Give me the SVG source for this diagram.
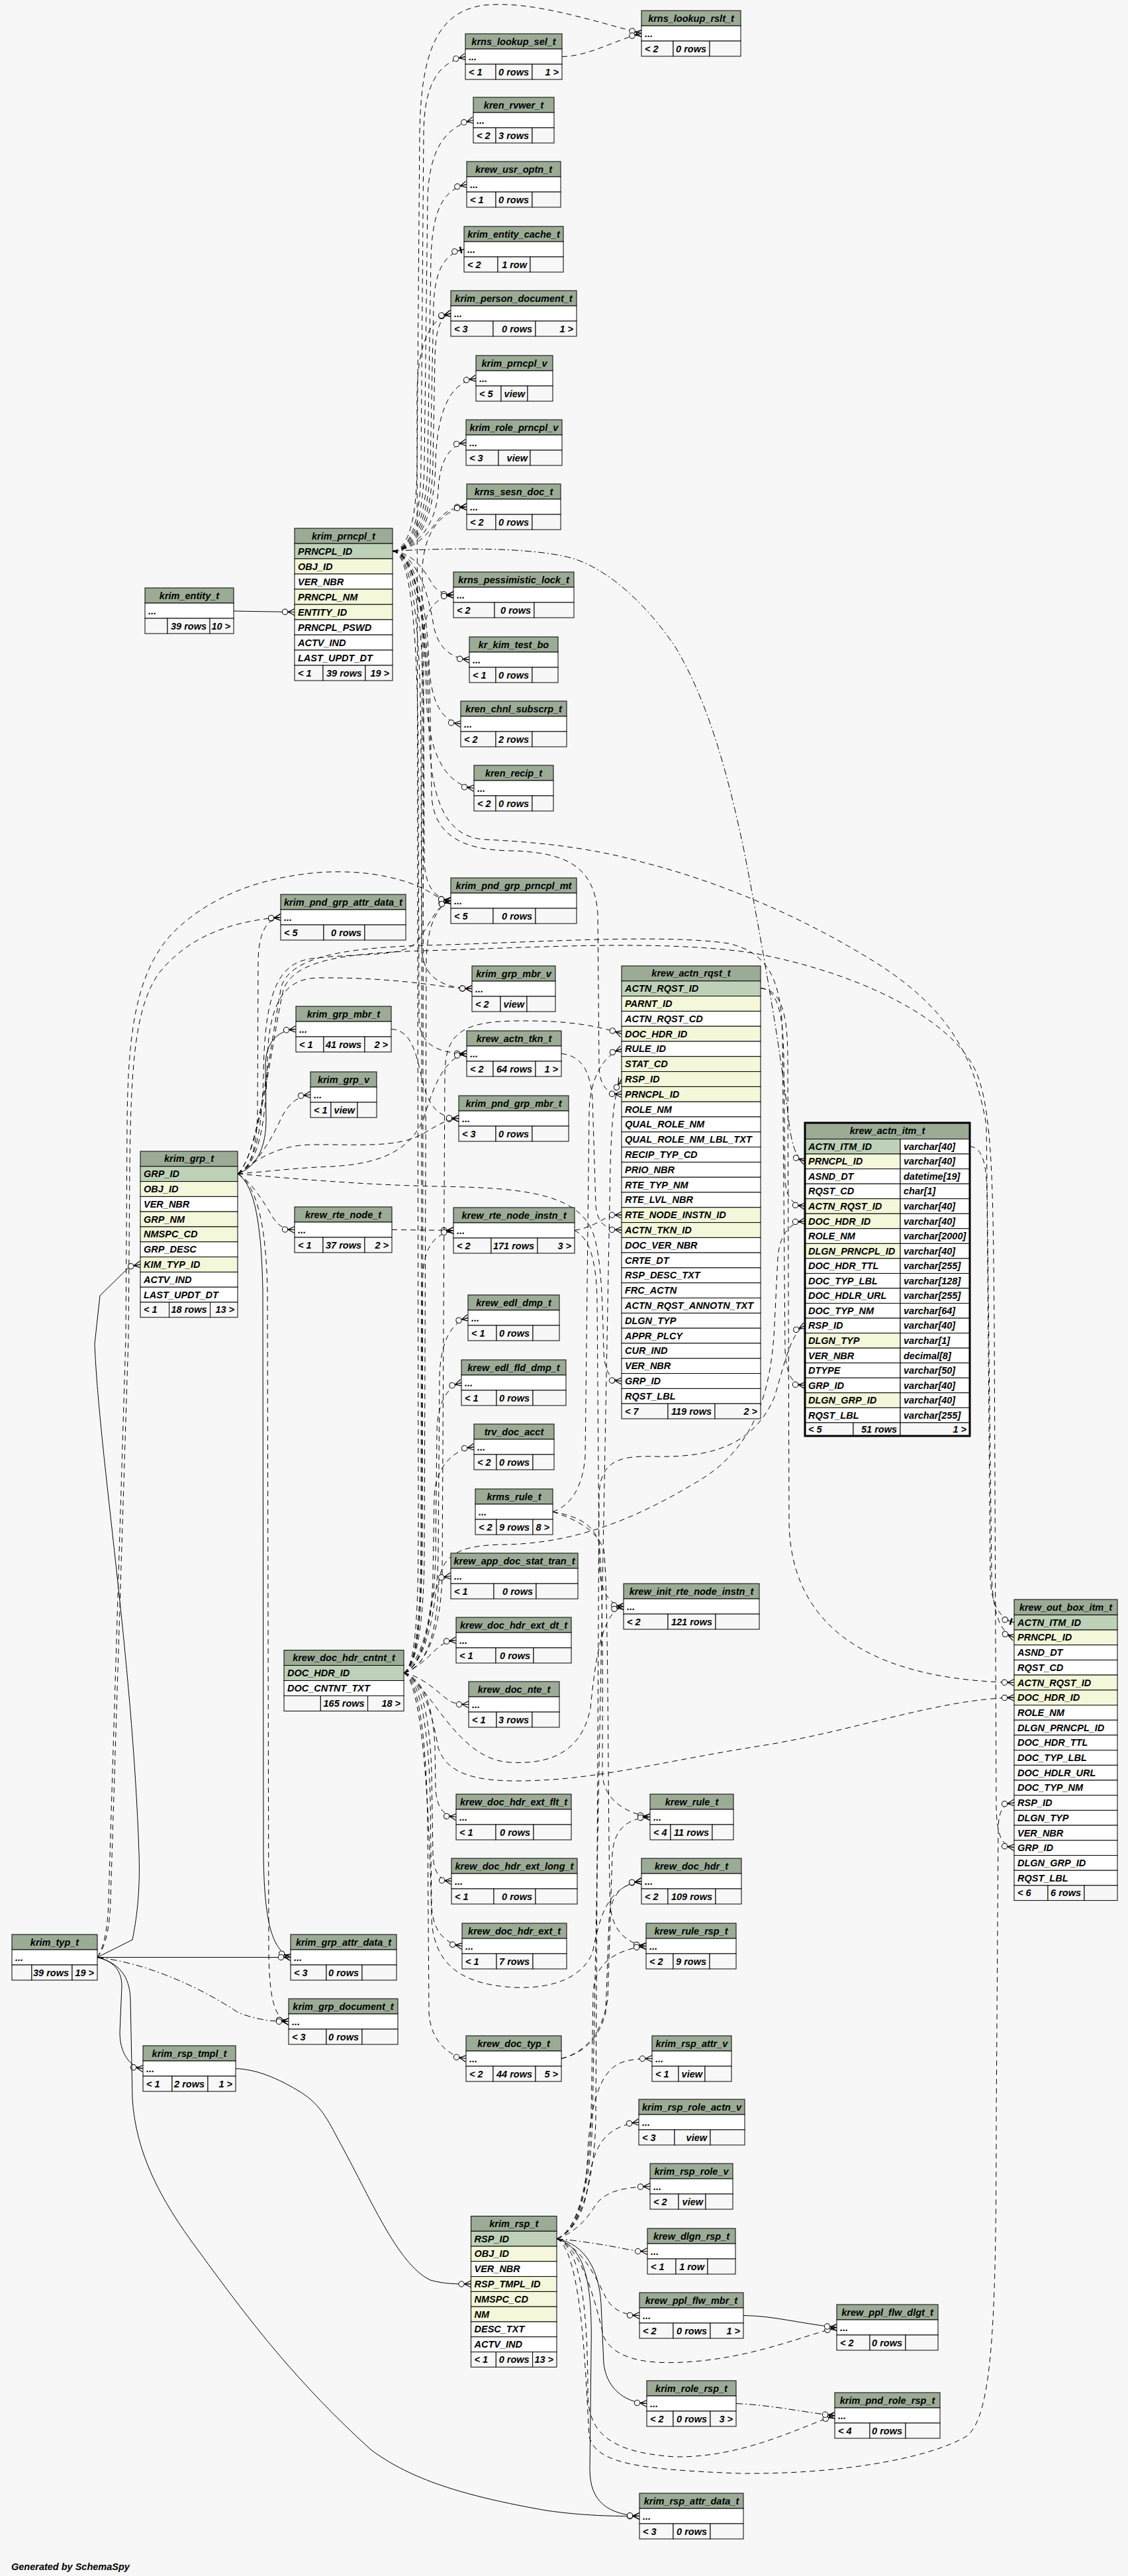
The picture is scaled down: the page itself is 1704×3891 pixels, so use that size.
<svg xmlns="http://www.w3.org/2000/svg" width="1704" height="3891" viewBox="0 0 1704 3891">
<style>
text{font-family:"Liberation Sans",Arial,Helvetica,sans-serif;font-weight:bold;font-style:italic;font-size:14.5px;fill:#000}
.n{text-anchor:middle}
.e{text-anchor:end}
.h,.k,.i,.w,.f{stroke:#000;stroke-width:1}
.h{fill:#9bab96}.k{fill:#bed1b8}.i{fill:#f4f7da}.w{fill:#fff}.f{fill:#f7f7f7}
.c{fill:none;stroke:#000;stroke-width:1;marker-end:url(#cf)}
.b{marker-end:url(#cb)}
.d{stroke-dasharray:8 6}
.dd{stroke-dasharray:10 4 2 4}
</style>
<defs>
<marker id="cf" markerUnits="userSpaceOnUse" viewBox="-20 -8 21 16" refX="0" refY="0" markerWidth="21" markerHeight="16" orient="auto" overflow="visible">
<path d="M-10,0L0,-5M-10,0L0,0M-10,0L0,5" fill="none" stroke="#000" stroke-width="1.2"/>
<circle cx="-14.5" cy="0" r="4.2" fill="#f7f7f7" stroke="#000" stroke-width="1"/>
</marker>
<marker id="cb" markerUnits="userSpaceOnUse" viewBox="-20 -8 21 16" refX="0" refY="0" markerWidth="21" markerHeight="16" orient="auto" overflow="visible">
<path d="M-10,0L0,0" fill="none" stroke="#000" stroke-width="1"/>
<path d="M-5,-5L-5,5" fill="none" stroke="#000" stroke-width="2.5"/>
<circle cx="-14.5" cy="0" r="4.2" fill="#f7f7f7" stroke="#000" stroke-width="1"/>
</marker>
</defs>
<rect x="0" y="0" width="1704" height="3891" fill="#f7f7f7"/>

<g id="connectors">
<path class="c" d="M353,923 L445,924.5"/>
<path class="c d" d="M593,832.5 C618,830 630,780 630,700 L634,200 C636,80 660,18 730,8 C800,0 890,30 969,50.5"/>
<path class="c d" d="M849,85.5 C890,85 930,60 969,50.5"/>
<path class="c d" d="M593,832.5 C619,830 636,790 636,700 L640,200 C641,130 660,95 703,85.5"/>
<path class="c d" d="M593,832.5 C620,830 640,790 641,700 L646,300 C648,230 670,192 715,181.5"/>
<path class="c d" d="M593,832.5 C622,830 644,790 646,700 L651,390 C653,320 668,287 705,278.5"/>
<path class="c d b" d="M593,832.5 C624,830 648,790 650,700 L655,460 C657,410 670,384 701,376.5"/>
<path class="c d" d="M593,832.5 C626,830 652,790 654,700 L657,540 C658,500 664,478 681,473.5"/>
<path class="c d" d="M593,832.5 C628,830 656,790 658,700 C660,620 680,578 719,571.5"/>
<path class="c d" d="M593,832.5 C630,830 660,790 662,740 C664,695 680,672 704,668.5"/>
<path class="c d" d="M593,832.5 C632,830 650,800 662,785 C675,770 688,766 705,765.5"/>
<path class="c d" d="M593,832.5 C630,836 645,870 655,885 C664,896 675,898 685,898.5"/>
<path class="c d" d="M593,832.5 C630,836 648,900 655,945 C662,980 682,994 709,996.5"/>
<path class="c d" d="M593,832.5 C630,836 645,920 648,1000 C650,1060 668,1090 696,1093.5"/>
<path class="c d" d="M593,832.5 C630,836 642,930 644,1050 C646,1140 675,1186 716,1190.5"/>
<path class="c d" d="M593,832.5 C630,836 640,960 640,1100 L641,1300 C642,1340 658,1357 681,1360.5"/>
<path class="c d" d="M593,832.5 C628,836 636,980 636,1150 L637,1430 C638,1475 665,1492 713,1493.5"/>
<path class="c d" d="M593,832.5 C626,836 632,1000 632,1200 L633,1540 C634,1578 662,1591 705,1591.5"/>
<path class="c d" d="M593,832.5 C632,836 648,960 650,1080 L652,1200 C654,1262 700,1284 770,1285 C850,1287 898,1305 903,1380 L905,1610 C906,1640 916,1652 939,1652.8"/>
<path class="c dd" d="M593,832.5 C700,826 820,828 870,845 C930,866 985,925 1020,977 C1070,1060 1100,1170 1125,1290 C1150,1420 1175,1560 1190,1680 C1195,1725 1200,1748 1216,1754.3"/>
<path class="c d" d="M593,832.5 C632,836 646,960 648,1100 C650,1200 668,1262 730,1268 C820,1272 900,1282 973,1303 C1080,1330 1200,1380 1300,1440 C1420,1510 1470,1580 1490,1700 L1498,2380 C1500,2440 1512,2466 1532,2473.4"/>

<path class="c d" d="M359,1773 C380,1765 388,1730 389,1680 L390,1450 C391,1410 402,1388 424,1385.5"/>
<path class="c" d="M359,1773 C390,1762 402,1730 402,1690 L401,1610 C401,1575 418,1557 447,1554.5"/>
<path class="c d" d="M359,1773 C386,1760 405,1730 422,1695 C432,1672 446,1656 469,1653.5"/>
<path class="c d" d="M359,1773 C380,1785 398,1815 410,1835 C418,1850 428,1857 445,1857.5"/>
<path class="c d" d="M359,1773 C388,1760 396,1700 398,1620 C400,1500 420,1455 470,1448 C550,1438 610,1448 632,1420 C650,1395 660,1366 681,1360.5"/>
<path class="c d" d="M359,1773 C390,1760 402,1700 404,1600 C406,1515 430,1478 480,1477 C560,1476 630,1484 670,1490 C690,1492 700,1493 713,1493.5"/>
<path class="c d" d="M359,1773 C420,1768 450,1764 500,1762 C580,1758 620,1735 640,1690 C660,1620 680,1596 705,1591.5"/>
<path class="c d" d="M359,1773 C390,1750 420,1730 470,1729 C540,1728 600,1735 640,1712 C660,1700 675,1690.5 693,1689.5"/>
<path class="c d" d="M359,1773 C460,1782 560,1790 660,1792 C780,1794 870,1800 895,1860 C910,1900 910,1980 912,2040 C913,2072 922,2085 939,2086"/>
<path class="c d" d="M359,1773 C390,1748 408,1580 425,1490 C440,1445 520,1432 640,1428 C800,1424 1000,1410 1100,1425 C1160,1438 1180,1480 1182,1560 L1186,2040 C1188,2080 1198,2091 1216,2092.6"/>
<path class="c d" d="M359,1773 C392,1745 410,1575 428,1495 C445,1450 520,1440 640,1436 C800,1432 1000,1418 1140,1440 C1300,1470 1440,1540 1475,1620 C1500,1680 1500,1800 1502,2000 L1505,2730 C1506,2770 1512,2788 1532,2790.5"/>
<path class="c" d="M359,1773 C385,1790 395,1850 397,1950 L398,2800 C399,2900 410,2945 439,2956.5"/>
<path class="c d" d="M359,1773 C388,1790 402,1850 404,1950 L406,2950 C407,3020 415,3050 436,3053.5"/>
<path class="c d" d="M591,1554.5 C625,1556 630,1600 640,1640 C650,1675 665,1688 693,1689.5"/>

<path class="c" d="M147,2956.5 L200,2930 C206,2900 212,2860 210,2800 C200,2500 150,2200 143,2030 L151,1957 L196,1913 L212,1910"/>
<path class="c" d="M147,2956.5 L439,2956.5"/>
<path class="c dd" d="M147,2956.5 C220,2965 300,3000 360,3040 C390,3052 415,3053.5 436,3053.5"/>
<path class="c d" d="M147,2956.5 C160,2940 166,2910 167,2870 L194,2020 L196,1760 C198,1600 205,1520 240,1470 C280,1420 340,1392 424,1385.5"/>
<path class="c d" d="M147,2956.5 C158,2940 163,2910 164,2870 L190,2020 L192,1700 C193,1560 205,1470 260,1410 C320,1350 400,1325 480,1318 C560,1312 620,1330 650,1348 C660,1355 670,1359 681,1360.5"/>
<path class="c" d="M147,2956.5 C170,2962 184,2975 184,3000 L181,3070 C181,3100 195,3122 216,3124.5"/>
<path class="c" d="M147,2956.5 C180,2965 196,2985 197,3020 L200,3170 C205,3250 240,3320 300,3400 C380,3510 450,3600 560,3700 C620,3745 700,3770 825,3792 C880,3800 930,3801 966,3800.5"/>
<path class="c" d="M356,3124.5 C390,3126 420,3140 449,3157 C480,3175 492,3195 510,3230 C560,3320 600,3420 650,3444 C670,3450 690,3450 711.5,3450"/>

<path class="c d" d="M592,1857.5 L685,1858.5"/>
<path class="c d" d="M868,1858.5 C890,1855 905,1845 915,1840 C922,1836 930,1835.2 939,1835.2"/>
<path class="c d" d="M868,1858.5 C890,1870 900,1900 902,1960 L905,2360 C906,2400 918,2424 942,2426.5"/>
<path class="c d" d="M848,1591.5 C880,1595 892,1620 895,1660 L900,1820 C902,1848 915,1857 939,1858"/>
<path class="c d" d="M835,2283.5 C860,2275 880,2250 884,2200 L890,1680 C891,1630 910,1595 939,1584.4"/>
<path class="c d" d="M835,2283.5 C870,2290 895,2300 905,2330 C912,2400 910,2600 910,2680 C912,2715 940,2738 982,2744.5"/>
<path class="c d" d="M835,2283.5 C870,2295 900,2310 912,2340 C920,2400 918,2800 922,2880 C926,2920 950,2936 976,2939.5"/>
<path class="c d" d="M1149,1492.6 C1175,1495 1183,1530 1184,1600 L1186,1780 C1187,1810 1198,1820 1216,1822"/>
<path class="c d" d="M1149,1492.6 C1180,1495 1190,1530 1190,1600 L1192,2300 C1195,2480 1350,2538 1532,2541.5"/>
<path class="c d b" d="M1465,1731.8 C1485,1733 1490,1760 1491,1800 L1496,2380 C1497,2425 1510,2444 1532,2450.7"/>

<path class="c d" d="M610,2527 C645,2518 666,2460 668,2380 L672,1620 C673,1560 700,1543 780,1542 C860,1541 905,1550 939,1561.6"/>
<path class="c d" d="M610,2527 C645,2520 660,2460 662,2400 C664,2350 690,2334 760,2333 C860,2332 950,2300 1050,2240 C1130,2195 1165,2120 1170,2000 L1175,1900 C1178,1862 1195,1846 1216,1844.5"/>
<path class="c d" d="M610,2527 C640,2535 655,2600 662,2640 C675,2680 720,2690 780,2690 C900,2690 1000,2660 1156,2636 C1300,2612 1420,2566 1532,2564.2"/>
<path class="c d" d="M610,2527 C630,2520 645,2505 655,2495 C665,2484 675,2479 689,2477.5"/>
<path class="c d" d="M610,2527 C640,2532 665,2560 680,2570 C690,2574 698,2574.5 708,2574.5"/>
<path class="c d" d="M610,2527 C640,2535 655,2580 657,2640 L658,2700 C659,2730 670,2743 689,2744.5"/>
<path class="c d" d="M610,2527 C638,2535 650,2600 652,2680 L654,2800 C655,2830 665,2840 682,2841.5"/>
<path class="c d" d="M610,2527 C636,2535 648,2620 650,2720 L652,2880 C654,2915 670,2935 698,2939.5"/>
<path class="c d" d="M610,2527 C634,2535 645,2640 646,2760 L648,3040 C650,3080 675,3105 704,3109.5"/>
<path class="c d" d="M610,2527 C640,2518 660,2440 662,2350 L664,2080 C665,2030 680,1998 707,1990.5"/>
<path class="c d" d="M610,2527 C638,2518 656,2440 658,2350 L660,2160 C661,2120 675,2095 697,2088.5"/>
<path class="c d" d="M610,2527 C636,2518 652,2460 654,2380 L656,2260 C658,2215 685,2190 716,2185.5"/>
<path class="c d" d="M610,2527 C630,2515 645,2470 650,2430 C655,2400 665,2383 681,2380.5"/>
<path class="c d" d="M610,2527 C630,2515 636,2450 637,2350 L638,1940 C639,1890 650,1866 685,1858.5"/>
<path class="c d" d="M610,2527 C650,2545 690,2658 770,2662 C840,2666 880,2640 892,2580 C900,2500 910,2435 942,2426.5"/>
<path class="c d" d="M610,2527 C636,2540 648,2700 652,2900 C656,2970 700,2998 778,3002 C840,3004 880,2985 895,2950 C905,2900 915,2850 969,2841.5"/>
<path class="c d" d="M610,2527 C632,2515 640,2440 641,2350 L644,1450 C645,1400 660,1368 681,1360.5"/>
<path class="c d" d="M610,2527 C628,2515 632,2440 632,2300 L630,600 C630,520 650,480 681,473.5"/>
<path class="c d" d="M610,2527 C630,2515 636,2440 636,2300 L638,860 C640,800 670,770 705,765.5"/>
<path class="c d" d="M610,2527 C631,2515 638,2440 638,2300 L640,960 C641,920 660,902 685,898.5"/>

<path class="c d" d="M848,3109.5 C880,3102 905,3080 915,3040 L920,2900 C922,2862 940,2845 969,2841.5"/>
<path class="c d" d="M848,3109.5 C885,3100 910,3070 918,3020 L925,2800 C928,2760 950,2747 982,2744.5"/>

<path class="c d" d="M841,3381.6 C870,3370 885,3330 888,3250 C892,3170 910,3125 940,3115 C955,3110 970,3109.5 985,3109.5"/>
<path class="c d" d="M841,3381.6 C868,3370 884,3340 890,3290 C898,3240 915,3212 965,3205.5"/>
<path class="c d" d="M841,3381.6 C870,3372 888,3350 900,3330 C915,3310 940,3304 982,3302.5"/>
<path class="c dd" d="M841,3381.6 C880,3385 920,3392 950,3398 C962,3400 970,3400.5 978,3400.5"/>
<path class="c d" d="M841,3381.6 C880,3395 900,3440 915,3470 C925,3490 945,3497 966,3497.5"/>
<path class="c" d="M841,3381.6 C885,3390 905,3430 908,3480 L912,3570 C916,3605 940,3628 977,3630.5"/>
<path class="c" d="M841,3381.6 C885,3395 895,3450 893,3550 L891,3730 C891,3780 920,3798 966,3800.5"/>
<path class="c d" d="M841,3381.6 C880,3395 888,3500 888,3620 C890,3680 930,3705 1020,3711 C1120,3712 1200,3670 1261,3648.5"/>
<path class="c d" d="M841,3381.6 C880,3395 900,3480 912,3530 C930,3565 980,3575 1068,3565 C1150,3555 1210,3530 1264,3515.5"/>
<path class="c d" d="M841,3381.6 C880,3400 885,3600 890,3680 C900,3720 960,3730 1116,3736 C1260,3738 1400,3715 1460,3680 C1500,3650 1505,3500 1505,3200 L1508,2760 C1509,2735 1515,2725 1532,2723"/>
<path class="c d" d="M841,3381.6 C875,3370 898,3300 900,3200 L905,2260 C906,2210 930,2198 990,2200 C1080,2202 1140,2180 1170,2110 C1185,2060 1195,2012 1216,2002.4"/>
<path class="c d" d="M841,3381.6 C872,3370 893,3300 895,3200 L922,1760 C924,1690 928,1648 939,1630"/>
<path class="c d" d="M841,3381.6 C872,3370 890,3300 893,3200 L896,3010 C898,2965 930,2945 976,2939.5"/>
<path class="c" d="M1123,3497.5 C1170,3498 1210,3510 1264,3515.5"/>
<path class="c dd" d="M1112,3630.5 C1170,3633 1220,3645 1261,3648.5"/>
</g>

<g id="krns_lookup_rslt_t"><rect class="h" x="969" y="16" width="150" height="23"/><rect class="w" x="969" y="39" width="150" height="23"/><rect class="f" x="969" y="62" width="48" height="23"/><rect class="f" x="1017" y="62" width="55" height="23"/><rect class="f" x="1072" y="62" width="47" height="23"/><text class="n" x="1044" y="32.5">krns_lookup_rslt_t</text><text x="974" y="55.5">...</text><text x="974" y="78.5">&lt; 2</text><text class="e" x="1067" y="78.5">0 rows</text></g>
<g id="krns_lookup_sel_t"><rect class="h" x="703" y="51" width="146" height="23"/><rect class="w" x="703" y="74" width="146" height="23"/><rect class="f" x="703" y="97" width="46" height="23"/><rect class="f" x="749" y="97" width="55" height="23"/><rect class="f" x="804" y="97" width="45" height="23"/><text class="n" x="776" y="67.5">krns_lookup_sel_t</text><text x="708" y="90.5">...</text><text x="708" y="113.5">&lt; 1</text><text class="e" x="799" y="113.5">0 rows</text><text class="e" x="844" y="113.5">1 &gt;</text></g>
<g id="kren_rvwer_t"><rect class="h" x="715" y="147" width="122" height="23"/><rect class="w" x="715" y="170" width="122" height="23"/><rect class="f" x="715" y="193" width="34" height="23"/><rect class="f" x="749" y="193" width="55" height="23"/><rect class="f" x="804" y="193" width="33" height="23"/><text class="n" x="776" y="163.5">kren_rvwer_t</text><text x="720" y="186.5">...</text><text x="720" y="209.5">&lt; 2</text><text class="e" x="799" y="209.5">3 rows</text></g>
<g id="krew_usr_optn_t"><rect class="h" x="705" y="244" width="142" height="23"/><rect class="w" x="705" y="267" width="142" height="23"/><rect class="f" x="705" y="290" width="44" height="23"/><rect class="f" x="749" y="290" width="55" height="23"/><rect class="f" x="804" y="290" width="43" height="23"/><text class="n" x="776" y="260.5">krew_usr_optn_t</text><text x="710" y="283.5">...</text><text x="710" y="306.5">&lt; 1</text><text class="e" x="799" y="306.5">0 rows</text></g>
<g id="krim_entity_cache_t"><rect class="h" x="701" y="342" width="150" height="23"/><rect class="w" x="701" y="365" width="150" height="23"/><rect class="f" x="701" y="388" width="51" height="23"/><rect class="f" x="752" y="388" width="49" height="23"/><rect class="f" x="801" y="388" width="50" height="23"/><text class="n" x="776" y="358.5">krim_entity_cache_t</text><text x="706" y="381.5">...</text><text x="706" y="404.5">&lt; 2</text><text class="e" x="796" y="404.5">1 row</text></g>
<g id="krim_person_document_t"><rect class="h" x="681" y="439" width="190" height="23"/><rect class="w" x="681" y="462" width="190" height="23"/><rect class="f" x="681" y="485" width="64" height="23"/><rect class="f" x="745" y="485" width="64" height="23"/><rect class="f" x="809" y="485" width="62" height="23"/><text class="n" x="776" y="455.5">krim_person_document_t</text><text x="686" y="478.5">...</text><text x="686" y="501.5">&lt; 3</text><text class="e" x="804" y="501.5">0 rows</text><text class="e" x="866" y="501.5">1 &gt;</text></g>
<g id="krim_prncpl_v"><rect class="h" x="719" y="537" width="116" height="23"/><rect class="w" x="719" y="560" width="116" height="23"/><rect class="f" x="719" y="583" width="38" height="23"/><rect class="f" x="757" y="583" width="40" height="23"/><rect class="f" x="797" y="583" width="38" height="23"/><text class="n" x="777" y="553.5">krim_prncpl_v</text><text x="724" y="576.5">...</text><text x="724" y="599.5">&lt; 5</text><text class="e" x="793" y="599.5">view</text></g>
<g id="krim_role_prncpl_v"><rect class="h" x="704" y="634" width="145" height="23"/><rect class="w" x="704" y="657" width="145" height="23"/><rect class="f" x="704" y="680" width="49" height="23"/><rect class="f" x="753" y="680" width="48" height="23"/><rect class="f" x="801" y="680" width="48" height="23"/><text class="n" x="776.5" y="650.5">krim_role_prncpl_v</text><text x="709" y="673.5">...</text><text x="709" y="696.5">&lt; 3</text><text class="e" x="797" y="696.5">view</text></g>
<g id="krns_sesn_doc_t"><rect class="h" x="705" y="731" width="142" height="23"/><rect class="w" x="705" y="754" width="142" height="23"/><rect class="f" x="705" y="777" width="44" height="23"/><rect class="f" x="749" y="777" width="55" height="23"/><rect class="f" x="804" y="777" width="43" height="23"/><text class="n" x="776" y="747.5">krns_sesn_doc_t</text><text x="710" y="770.5">...</text><text x="710" y="793.5">&lt; 2</text><text class="e" x="799" y="793.5">0 rows</text></g>
<g id="krns_pessimistic_lock_t"><rect class="h" x="685" y="864" width="182" height="23"/><rect class="w" x="685" y="887" width="182" height="23"/><rect class="f" x="685" y="910" width="62" height="23"/><rect class="f" x="747" y="910" width="60" height="23"/><rect class="f" x="807" y="910" width="60" height="23"/><text class="n" x="776" y="880.5">krns_pessimistic_lock_t</text><text x="690" y="903.5">...</text><text x="690" y="926.5">&lt; 2</text><text class="e" x="802" y="926.5">0 rows</text></g>
<g id="kr_kim_test_bo"><rect class="h" x="709" y="962" width="134" height="23"/><rect class="w" x="709" y="985" width="134" height="23"/><rect class="f" x="709" y="1008" width="40" height="23"/><rect class="f" x="749" y="1008" width="55" height="23"/><rect class="f" x="804" y="1008" width="39" height="23"/><text class="n" x="776" y="978.5">kr_kim_test_bo</text><text x="714" y="1001.5">...</text><text x="714" y="1024.5">&lt; 1</text><text class="e" x="799" y="1024.5">0 rows</text></g>
<g id="kren_chnl_subscrp_t"><rect class="h" x="696" y="1059" width="160" height="23"/><rect class="w" x="696" y="1082" width="160" height="23"/><rect class="f" x="696" y="1105" width="53" height="23"/><rect class="f" x="749" y="1105" width="55" height="23"/><rect class="f" x="804" y="1105" width="52" height="23"/><text class="n" x="776" y="1075.5">kren_chnl_subscrp_t</text><text x="701" y="1098.5">...</text><text x="701" y="1121.5">&lt; 2</text><text class="e" x="799" y="1121.5">2 rows</text></g>
<g id="kren_recip_t"><rect class="h" x="716" y="1156" width="120" height="23"/><rect class="w" x="716" y="1179" width="120" height="23"/><rect class="f" x="716" y="1202" width="33" height="23"/><rect class="f" x="749" y="1202" width="55" height="23"/><rect class="f" x="804" y="1202" width="32" height="23"/><text class="n" x="776" y="1172.5">kren_recip_t</text><text x="721" y="1195.5">...</text><text x="721" y="1218.5">&lt; 2</text><text class="e" x="799" y="1218.5">0 rows</text></g>
<g id="krim_pnd_grp_prncpl_mt"><rect class="h" x="681" y="1326" width="190" height="23"/><rect class="w" x="681" y="1349" width="190" height="23"/><rect class="f" x="681" y="1372" width="64" height="23"/><rect class="f" x="745" y="1372" width="64" height="23"/><rect class="f" x="809" y="1372" width="62" height="23"/><text class="n" x="776" y="1342.5">krim_pnd_grp_prncpl_mt</text><text x="686" y="1365.5">...</text><text x="686" y="1388.5">&lt; 5</text><text class="e" x="804" y="1388.5">0 rows</text></g>
<g id="krim_grp_mbr_v"><rect class="h" x="713" y="1459" width="126" height="23"/><rect class="w" x="713" y="1482" width="126" height="23"/><rect class="f" x="713" y="1505" width="43" height="23"/><rect class="f" x="756" y="1505" width="40" height="23"/><rect class="f" x="796" y="1505" width="43" height="23"/><text class="n" x="776" y="1475.5">krim_grp_mbr_v</text><text x="718" y="1498.5">...</text><text x="718" y="1521.5">&lt; 2</text><text class="e" x="792" y="1521.5">view</text></g>
<g id="krew_actn_tkn_t"><rect class="h" x="705" y="1557" width="143" height="23"/><rect class="w" x="705" y="1580" width="143" height="23"/><rect class="f" x="705" y="1603" width="40" height="23"/><rect class="f" x="745" y="1603" width="64" height="23"/><rect class="f" x="809" y="1603" width="39" height="23"/><text class="n" x="776.5" y="1573.5">krew_actn_tkn_t</text><text x="710" y="1596.5">...</text><text x="710" y="1619.5">&lt; 2</text><text class="e" x="804" y="1619.5">64 rows</text><text class="e" x="843" y="1619.5">1 &gt;</text></g>
<g id="krim_pnd_grp_mbr_t"><rect class="h" x="693" y="1655" width="166" height="23"/><rect class="w" x="693" y="1678" width="166" height="23"/><rect class="f" x="693" y="1701" width="56" height="23"/><rect class="f" x="749" y="1701" width="55" height="23"/><rect class="f" x="804" y="1701" width="55" height="23"/><text class="n" x="776" y="1671.5">krim_pnd_grp_mbr_t</text><text x="698" y="1694.5">...</text><text x="698" y="1717.5">&lt; 3</text><text class="e" x="799" y="1717.5">0 rows</text></g>
<g id="krim_pnd_grp_attr_data_t"><rect class="h" x="424" y="1351" width="189" height="23"/><rect class="w" x="424" y="1374" width="189" height="23"/><rect class="f" x="424" y="1397" width="65" height="23"/><rect class="f" x="489" y="1397" width="62" height="23"/><rect class="f" x="551" y="1397" width="62" height="23"/><text class="n" x="518.5" y="1367.5">krim_pnd_grp_attr_data_t</text><text x="429" y="1390.5">...</text><text x="429" y="1413.5">&lt; 5</text><text class="e" x="546" y="1413.5">0 rows</text></g>
<g id="krim_grp_mbr_t"><rect class="h" x="447" y="1520" width="144" height="23"/><rect class="w" x="447" y="1543" width="144" height="23"/><rect class="f" x="447" y="1566" width="42" height="23"/><rect class="f" x="489" y="1566" width="62" height="23"/><rect class="f" x="551" y="1566" width="40" height="23"/><text class="n" x="519" y="1536.5">krim_grp_mbr_t</text><text x="452" y="1559.5">...</text><text x="452" y="1582.5">&lt; 1</text><text class="e" x="546" y="1582.5">41 rows</text><text class="e" x="586" y="1582.5">2 &gt;</text></g>
<g id="krim_grp_v"><rect class="h" x="469" y="1619" width="100" height="23"/><rect class="w" x="469" y="1642" width="100" height="23"/><rect class="f" x="469" y="1665" width="31" height="23"/><rect class="f" x="500" y="1665" width="40" height="23"/><rect class="f" x="540" y="1665" width="29" height="23"/><text class="n" x="519" y="1635.5">krim_grp_v</text><text x="474" y="1658.5">...</text><text x="474" y="1681.5">&lt; 1</text><text class="e" x="536" y="1681.5">view</text></g>
<g id="krew_rte_node_t"><rect class="h" x="445" y="1823" width="147" height="23"/><rect class="w" x="445" y="1846" width="147" height="23"/><rect class="f" x="445" y="1869" width="43" height="23"/><rect class="f" x="488" y="1869" width="63" height="23"/><rect class="f" x="551" y="1869" width="41" height="23"/><text class="n" x="518.5" y="1839.5">krew_rte_node_t</text><text x="450" y="1862.5">...</text><text x="450" y="1885.5">&lt; 1</text><text class="e" x="546" y="1885.5">37 rows</text><text class="e" x="587" y="1885.5">2 &gt;</text></g>
<g id="krew_rte_node_instn_t"><rect class="h" x="685" y="1824" width="183" height="23"/><rect class="w" x="685" y="1847" width="183" height="23"/><rect class="f" x="685" y="1870" width="57" height="23"/><rect class="f" x="742" y="1870" width="70" height="23"/><rect class="f" x="812" y="1870" width="56" height="23"/><text class="n" x="776.5" y="1840.5">krew_rte_node_instn_t</text><text x="690" y="1863.5">...</text><text x="690" y="1886.5">&lt; 2</text><text class="e" x="807" y="1886.5">171 rows</text><text class="e" x="863" y="1886.5">3 &gt;</text></g>
<g id="krew_edl_dmp_t"><rect class="h" x="707" y="1956" width="138" height="23"/><rect class="w" x="707" y="1979" width="138" height="23"/><rect class="f" x="707" y="2002" width="43" height="23"/><rect class="f" x="750" y="2002" width="55" height="23"/><rect class="f" x="805" y="2002" width="40" height="23"/><text class="n" x="776" y="1972.5">krew_edl_dmp_t</text><text x="712" y="1995.5">...</text><text x="712" y="2018.5">&lt; 1</text><text class="e" x="800" y="2018.5">0 rows</text></g>
<g id="krew_edl_fld_dmp_t"><rect class="h" x="697" y="2054" width="158" height="23"/><rect class="w" x="697" y="2077" width="158" height="23"/><rect class="f" x="697" y="2100" width="53" height="23"/><rect class="f" x="750" y="2100" width="55" height="23"/><rect class="f" x="805" y="2100" width="50" height="23"/><text class="n" x="776" y="2070.5">krew_edl_fld_dmp_t</text><text x="702" y="2093.5">...</text><text x="702" y="2116.5">&lt; 1</text><text class="e" x="800" y="2116.5">0 rows</text></g>
<g id="trv_doc_acct"><rect class="h" x="716" y="2151" width="121" height="23"/><rect class="w" x="716" y="2174" width="121" height="23"/><rect class="f" x="716" y="2197" width="34" height="23"/><rect class="f" x="750" y="2197" width="55" height="23"/><rect class="f" x="805" y="2197" width="32" height="23"/><text class="n" x="776.5" y="2167.5">trv_doc_acct</text><text x="721" y="2190.5">...</text><text x="721" y="2213.5">&lt; 2</text><text class="e" x="800" y="2213.5">0 rows</text></g>
<g id="krms_rule_t"><rect class="h" x="718" y="2249" width="117" height="23"/><rect class="w" x="718" y="2272" width="117" height="23"/><rect class="f" x="718" y="2295" width="32" height="23"/><rect class="f" x="750" y="2295" width="55" height="23"/><rect class="f" x="805" y="2295" width="30" height="23"/><text class="n" x="776.5" y="2265.5">krms_rule_t</text><text x="723" y="2288.5">...</text><text x="723" y="2311.5">&lt; 2</text><text class="e" x="800" y="2311.5">9 rows</text><text class="e" x="830" y="2311.5">8 &gt;</text></g>
<g id="krew_app_doc_stat_tran_t"><rect class="h" x="681" y="2346" width="192" height="23"/><rect class="w" x="681" y="2369" width="192" height="23"/><rect class="f" x="681" y="2392" width="65" height="23"/><rect class="f" x="746" y="2392" width="64" height="23"/><rect class="f" x="810" y="2392" width="63" height="23"/><text class="n" x="777" y="2362.5">krew_app_doc_stat_tran_t</text><text x="686" y="2385.5">...</text><text x="686" y="2408.5">&lt; 1</text><text class="e" x="805" y="2408.5">0 rows</text></g>
<g id="krew_init_rte_node_instn_t"><rect class="h" x="942" y="2392" width="205" height="23"/><rect class="w" x="942" y="2415" width="205" height="23"/><rect class="f" x="942" y="2438" width="67" height="23"/><rect class="f" x="1009" y="2438" width="72" height="23"/><rect class="f" x="1081" y="2438" width="66" height="23"/><text class="n" x="1044.5" y="2408.5">krew_init_rte_node_instn_t</text><text x="947" y="2431.5">...</text><text x="947" y="2454.5">&lt; 2</text><text class="e" x="1076" y="2454.5">121 rows</text></g>
<g id="krew_doc_hdr_ext_dt_t"><rect class="h" x="689" y="2443" width="174" height="23"/><rect class="w" x="689" y="2466" width="174" height="23"/><rect class="f" x="689" y="2489" width="60" height="23"/><rect class="f" x="749" y="2489" width="57" height="23"/><rect class="f" x="806" y="2489" width="57" height="23"/><text class="n" x="776" y="2459.5">krew_doc_hdr_ext_dt_t</text><text x="694" y="2482.5">...</text><text x="694" y="2505.5">&lt; 1</text><text class="e" x="801" y="2505.5">0 rows</text></g>
<g id="krew_doc_nte_t"><rect class="h" x="708" y="2540" width="137" height="23"/><rect class="w" x="708" y="2563" width="137" height="23"/><rect class="f" x="708" y="2586" width="42" height="23"/><rect class="f" x="750" y="2586" width="54" height="23"/><rect class="f" x="804" y="2586" width="41" height="23"/><text class="n" x="776.5" y="2556.5">krew_doc_nte_t</text><text x="713" y="2579.5">...</text><text x="713" y="2602.5">&lt; 1</text><text class="e" x="799" y="2602.5">3 rows</text></g>
<g id="krew_doc_hdr_ext_flt_t"><rect class="h" x="689" y="2710" width="174" height="23"/><rect class="w" x="689" y="2733" width="174" height="23"/><rect class="f" x="689" y="2756" width="60" height="23"/><rect class="f" x="749" y="2756" width="57" height="23"/><rect class="f" x="806" y="2756" width="57" height="23"/><text class="n" x="776" y="2726.5">krew_doc_hdr_ext_flt_t</text><text x="694" y="2749.5">...</text><text x="694" y="2772.5">&lt; 1</text><text class="e" x="801" y="2772.5">0 rows</text></g>
<g id="krew_rule_t"><rect class="h" x="982" y="2710" width="126" height="23"/><rect class="w" x="982" y="2733" width="126" height="23"/><rect class="f" x="982" y="2756" width="31" height="23"/><rect class="f" x="1013" y="2756" width="63" height="23"/><rect class="f" x="1076" y="2756" width="32" height="23"/><text class="n" x="1045" y="2726.5">krew_rule_t</text><text x="987" y="2749.5">...</text><text x="987" y="2772.5">&lt; 4</text><text class="e" x="1071" y="2772.5">11 rows</text></g>
<g id="krew_doc_hdr_ext_long_t"><rect class="h" x="682" y="2807" width="190" height="23"/><rect class="w" x="682" y="2830" width="190" height="23"/><rect class="f" x="682" y="2853" width="64" height="23"/><rect class="f" x="746" y="2853" width="63" height="23"/><rect class="f" x="809" y="2853" width="63" height="23"/><text class="n" x="777" y="2823.5">krew_doc_hdr_ext_long_t</text><text x="687" y="2846.5">...</text><text x="687" y="2869.5">&lt; 1</text><text class="e" x="804" y="2869.5">0 rows</text></g>
<g id="krew_doc_hdr_t"><rect class="h" x="969" y="2807" width="151" height="23"/><rect class="w" x="969" y="2830" width="151" height="23"/><rect class="f" x="969" y="2853" width="40" height="23"/><rect class="f" x="1009" y="2853" width="72" height="23"/><rect class="f" x="1081" y="2853" width="39" height="23"/><text class="n" x="1044.5" y="2823.5">krew_doc_hdr_t</text><text x="974" y="2846.5">...</text><text x="974" y="2869.5">&lt; 2</text><text class="e" x="1076" y="2869.5">109 rows</text></g>
<g id="krew_doc_hdr_ext_t"><rect class="h" x="698" y="2905" width="158" height="23"/><rect class="w" x="698" y="2928" width="158" height="23"/><rect class="f" x="698" y="2951" width="52" height="23"/><rect class="f" x="750" y="2951" width="55" height="23"/><rect class="f" x="805" y="2951" width="51" height="23"/><text class="n" x="777" y="2921.5">krew_doc_hdr_ext_t</text><text x="703" y="2944.5">...</text><text x="703" y="2967.5">&lt; 1</text><text class="e" x="800" y="2967.5">7 rows</text></g>
<g id="krew_rule_rsp_t"><rect class="h" x="976" y="2905" width="136" height="23"/><rect class="w" x="976" y="2928" width="136" height="23"/><rect class="f" x="976" y="2951" width="41" height="23"/><rect class="f" x="1017" y="2951" width="55" height="23"/><rect class="f" x="1072" y="2951" width="40" height="23"/><text class="n" x="1044" y="2921.5">krew_rule_rsp_t</text><text x="981" y="2944.5">...</text><text x="981" y="2967.5">&lt; 2</text><text class="e" x="1067" y="2967.5">9 rows</text></g>
<g id="krim_grp_attr_data_t"><rect class="h" x="439" y="2922" width="160" height="23"/><rect class="w" x="439" y="2945" width="160" height="23"/><rect class="f" x="439" y="2968" width="54" height="23"/><rect class="f" x="493" y="2968" width="54" height="23"/><rect class="f" x="547" y="2968" width="52" height="23"/><text class="n" x="519" y="2938.5">krim_grp_attr_data_t</text><text x="444" y="2961.5">...</text><text x="444" y="2984.5">&lt; 3</text><text class="e" x="542" y="2984.5">0 rows</text></g>
<g id="krim_typ_t"><rect class="h" x="18" y="2922" width="129" height="23"/><rect class="w" x="18" y="2945" width="129" height="23"/><rect class="f" x="18" y="2968" width="30" height="23"/><rect class="f" x="48" y="2968" width="61" height="23"/><rect class="f" x="109" y="2968" width="38" height="23"/><text class="n" x="82.5" y="2938.5">krim_typ_t</text><text x="23" y="2961.5">...</text><text class="e" x="104" y="2984.5">39 rows</text><text class="e" x="142" y="2984.5">19 &gt;</text></g>
<g id="krim_grp_document_t"><rect class="h" x="436" y="3019" width="165" height="23"/><rect class="w" x="436" y="3042" width="165" height="23"/><rect class="f" x="436" y="3065" width="57" height="23"/><rect class="f" x="493" y="3065" width="54" height="23"/><rect class="f" x="547" y="3065" width="54" height="23"/><text class="n" x="518.5" y="3035.5">krim_grp_document_t</text><text x="441" y="3058.5">...</text><text x="441" y="3081.5">&lt; 3</text><text class="e" x="542" y="3081.5">0 rows</text></g>
<g id="krew_doc_typ_t"><rect class="h" x="704" y="3075" width="144" height="23"/><rect class="w" x="704" y="3098" width="144" height="23"/><rect class="f" x="704" y="3121" width="41" height="23"/><rect class="f" x="745" y="3121" width="64" height="23"/><rect class="f" x="809" y="3121" width="39" height="23"/><text class="n" x="776" y="3091.5">krew_doc_typ_t</text><text x="709" y="3114.5">...</text><text x="709" y="3137.5">&lt; 2</text><text class="e" x="804" y="3137.5">44 rows</text><text class="e" x="843" y="3137.5">5 &gt;</text></g>
<g id="krim_rsp_attr_v"><rect class="h" x="985" y="3075" width="120" height="23"/><rect class="w" x="985" y="3098" width="120" height="23"/><rect class="f" x="985" y="3121" width="40" height="23"/><rect class="f" x="1025" y="3121" width="40" height="23"/><rect class="f" x="1065" y="3121" width="40" height="23"/><text class="n" x="1045" y="3091.5">krim_rsp_attr_v</text><text x="990" y="3114.5">...</text><text x="990" y="3137.5">&lt; 1</text><text class="e" x="1061" y="3137.5">view</text></g>
<g id="krim_rsp_tmpl_t"><rect class="h" x="216" y="3090" width="140" height="23"/><rect class="w" x="216" y="3113" width="140" height="23"/><rect class="f" x="216" y="3136" width="44" height="23"/><rect class="f" x="260" y="3136" width="54" height="23"/><rect class="f" x="314" y="3136" width="42" height="23"/><text class="n" x="286" y="3106.5">krim_rsp_tmpl_t</text><text x="221" y="3129.5">...</text><text x="221" y="3152.5">&lt; 1</text><text class="e" x="309" y="3152.5">2 rows</text><text class="e" x="351" y="3152.5">1 &gt;</text></g>
<g id="krim_rsp_role_actn_v"><rect class="h" x="965" y="3171" width="160" height="23"/><rect class="w" x="965" y="3194" width="160" height="23"/><rect class="f" x="965" y="3217" width="54" height="23"/><rect class="f" x="1019" y="3217" width="54" height="23"/><rect class="f" x="1073" y="3217" width="52" height="23"/><text class="n" x="1045" y="3187.5">krim_rsp_role_actn_v</text><text x="970" y="3210.5">...</text><text x="970" y="3233.5">&lt; 3</text><text class="e" x="1068" y="3233.5">view</text></g>
<g id="krim_rsp_role_v"><rect class="h" x="982" y="3268" width="125" height="23"/><rect class="w" x="982" y="3291" width="125" height="23"/><rect class="f" x="982" y="3314" width="43" height="23"/><rect class="f" x="1025" y="3314" width="41" height="23"/><rect class="f" x="1066" y="3314" width="41" height="23"/><text class="n" x="1044.5" y="3284.5">krim_rsp_role_v</text><text x="987" y="3307.5">...</text><text x="987" y="3330.5">&lt; 2</text><text class="e" x="1062" y="3330.5">view</text></g>
<g id="krew_dlgn_rsp_t"><rect class="h" x="978" y="3366" width="133" height="23"/><rect class="w" x="978" y="3389" width="133" height="23"/><rect class="f" x="978" y="3412" width="43" height="23"/><rect class="f" x="1021" y="3412" width="48" height="23"/><rect class="f" x="1069" y="3412" width="42" height="23"/><text class="n" x="1044.5" y="3382.5">krew_dlgn_rsp_t</text><text x="983" y="3405.5">...</text><text x="983" y="3428.5">&lt; 1</text><text class="e" x="1064" y="3428.5">1 row</text></g>
<g id="krew_ppl_flw_mbr_t"><rect class="h" x="966" y="3463" width="157" height="23"/><rect class="w" x="966" y="3486" width="157" height="23"/><rect class="f" x="966" y="3509" width="51" height="23"/><rect class="f" x="1017" y="3509" width="56" height="23"/><rect class="f" x="1073" y="3509" width="50" height="23"/><text class="n" x="1044.5" y="3479.5">krew_ppl_flw_mbr_t</text><text x="971" y="3502.5">...</text><text x="971" y="3525.5">&lt; 2</text><text class="e" x="1068" y="3525.5">0 rows</text><text class="e" x="1118" y="3525.5">1 &gt;</text></g>
<g id="krew_ppl_flw_dlgt_t"><rect class="h" x="1264" y="3481" width="153" height="23"/><rect class="w" x="1264" y="3504" width="153" height="23"/><rect class="f" x="1264" y="3527" width="50" height="23"/><rect class="f" x="1314" y="3527" width="54" height="23"/><rect class="f" x="1368" y="3527" width="49" height="23"/><text class="n" x="1340.5" y="3497.5">krew_ppl_flw_dlgt_t</text><text x="1269" y="3520.5">...</text><text x="1269" y="3543.5">&lt; 2</text><text class="e" x="1363" y="3543.5">0 rows</text></g>
<g id="krim_role_rsp_t"><rect class="h" x="977" y="3596" width="135" height="23"/><rect class="w" x="977" y="3619" width="135" height="23"/><rect class="f" x="977" y="3642" width="40" height="23"/><rect class="f" x="1017" y="3642" width="56" height="23"/><rect class="f" x="1073" y="3642" width="39" height="23"/><text class="n" x="1044.5" y="3612.5">krim_role_rsp_t</text><text x="982" y="3635.5">...</text><text x="982" y="3658.5">&lt; 2</text><text class="e" x="1068" y="3658.5">0 rows</text><text class="e" x="1107" y="3658.5">3 &gt;</text></g>
<g id="krim_pnd_role_rsp_t"><rect class="h" x="1261" y="3614" width="159" height="23"/><rect class="w" x="1261" y="3637" width="159" height="23"/><rect class="f" x="1261" y="3660" width="53" height="23"/><rect class="f" x="1314" y="3660" width="54" height="23"/><rect class="f" x="1368" y="3660" width="52" height="23"/><text class="n" x="1340.5" y="3630.5">krim_pnd_role_rsp_t</text><text x="1266" y="3653.5">...</text><text x="1266" y="3676.5">&lt; 4</text><text class="e" x="1363" y="3676.5">0 rows</text></g>
<g id="krim_rsp_attr_data_t"><rect class="h" x="966" y="3766" width="157" height="23"/><rect class="w" x="966" y="3789" width="157" height="23"/><rect class="f" x="966" y="3812" width="51" height="23"/><rect class="f" x="1017" y="3812" width="56" height="23"/><rect class="f" x="1073" y="3812" width="50" height="23"/><text class="n" x="1044.5" y="3782.5">krim_rsp_attr_data_t</text><text x="971" y="3805.5">...</text><text x="971" y="3828.5">&lt; 3</text><text class="e" x="1068" y="3828.5">0 rows</text></g>
<g id="krim_entity_t"><rect class="h" x="219" y="888" width="134" height="23"/><rect class="w" x="219" y="911" width="134" height="23"/><rect class="f" x="219" y="934" width="34" height="23"/><rect class="f" x="253" y="934" width="64" height="23"/><rect class="f" x="317" y="934" width="36" height="23"/><text class="n" x="286" y="904.5">krim_entity_t</text><text x="224" y="927.5">...</text><text class="e" x="312" y="950.5">39 rows</text><text class="e" x="348" y="950.5">10 &gt;</text></g>

<g id="krim_prncpl_t">
<rect class="h" x="445" y="798" width="148" height="23"/><text class="n" x="519" y="814.5">krim_prncpl_t</text>
<rect class="k" x="445" y="821" width="148" height="23"/><text x="450" y="837.5">PRNCPL_ID</text>
<rect class="i" x="445" y="844" width="148" height="23"/><text x="450" y="860.5">OBJ_ID</text>
<rect class="w" x="445" y="867" width="148" height="23"/><text x="450" y="883.5">VER_NBR</text>
<rect class="i" x="445" y="890" width="148" height="23"/><text x="450" y="906.5">PRNCPL_NM</text>
<rect class="i" x="445" y="913" width="148" height="23"/><text x="450" y="929.5">ENTITY_ID</text>
<rect class="w" x="445" y="936" width="148" height="23"/><text x="450" y="952.5">PRNCPL_PSWD</text>
<rect class="w" x="445" y="959" width="148" height="23"/><text x="450" y="975.5">ACTV_IND</text>
<rect class="w" x="445" y="982" width="148" height="23"/><text x="450" y="998.5">LAST_UPDT_DT</text>
<rect class="f" x="445" y="1005" width="43" height="23"/><rect class="f" x="488" y="1005" width="64" height="23"/><rect class="f" x="552" y="1005" width="41" height="23"/>
<text x="450" y="1021.5">&lt; 1</text><text class="e" x="547" y="1021.5">39 rows</text><text class="e" x="588" y="1021.5">19 &gt;</text>
</g>

<g id="krim_grp_t">
<rect class="h" x="212" y="1739" width="147" height="22.8"/><text class="n" x="285.5" y="1755.4">krim_grp_t</text>
<rect class="k" x="212" y="1761.8" width="147" height="22.8"/><text x="217" y="1778.2">GRP_ID</text>
<rect class="i" x="212" y="1784.6" width="147" height="22.8"/><text x="217" y="1801">OBJ_ID</text>
<rect class="w" x="212" y="1807.4" width="147" height="22.8"/><text x="217" y="1823.8">VER_NBR</text>
<rect class="i" x="212" y="1830.2" width="147" height="22.8"/><text x="217" y="1846.6">GRP_NM</text>
<rect class="i" x="212" y="1853" width="147" height="22.8"/><text x="217" y="1869.4">NMSPC_CD</text>
<rect class="w" x="212" y="1875.8" width="147" height="22.8"/><text x="217" y="1892.2">GRP_DESC</text>
<rect class="i" x="212" y="1898.6" width="147" height="22.8"/><text x="217" y="1915">KIM_TYP_ID</text>
<rect class="w" x="212" y="1921.4" width="147" height="22.8"/><text x="217" y="1937.8">ACTV_IND</text>
<rect class="w" x="212" y="1944.2" width="147" height="22.8"/><text x="217" y="1960.6">LAST_UPDT_DT</text>
<rect class="f" x="212" y="1967" width="43.5" height="22.8"/><rect class="f" x="255.5" y="1967" width="62" height="22.8"/><rect class="f" x="317.5" y="1967" width="41.5" height="22.8"/>
<text x="217" y="1983.4">&lt; 1</text><text class="e" x="312.5" y="1983.4">18 rows</text><text class="e" x="354" y="1983.4">13 &gt;</text>
</g>

<g id="krew_actn_rqst_t">
<rect class="h" x="939" y="1459" width="210" height="22.8"/><text class="n" x="1044" y="1475.4">krew_actn_rqst_t</text>
<rect class="k" x="939" y="1481.8" width="210" height="22.8"/><text x="944" y="1498.2">ACTN_RQST_ID</text>
<rect class="i" x="939" y="1504.6" width="210" height="22.8"/><text x="944" y="1521">PARNT_ID</text>
<rect class="w" x="939" y="1527.4" width="210" height="22.8"/><text x="944" y="1543.8">ACTN_RQST_CD</text>
<rect class="i" x="939" y="1550.2" width="210" height="22.8"/><text x="944" y="1566.6">DOC_HDR_ID</text>
<rect class="w" x="939" y="1573" width="210" height="22.8"/><text x="944" y="1589.4">RULE_ID</text>
<rect class="i" x="939" y="1595.8" width="210" height="22.8"/><text x="944" y="1612.2">STAT_CD</text>
<rect class="i" x="939" y="1618.6" width="210" height="22.8"/><text x="944" y="1635">RSP_ID</text>
<rect class="i" x="939" y="1641.4" width="210" height="22.8"/><text x="944" y="1657.8">PRNCPL_ID</text>
<rect class="w" x="939" y="1664.2" width="210" height="22.8"/><text x="944" y="1680.6">ROLE_NM</text>
<rect class="w" x="939" y="1687" width="210" height="22.8"/><text x="944" y="1703.4">QUAL_ROLE_NM</text>
<rect class="w" x="939" y="1709.8" width="210" height="22.8"/><text x="944" y="1726.2">QUAL_ROLE_NM_LBL_TXT</text>
<rect class="w" x="939" y="1732.6" width="210" height="22.8"/><text x="944" y="1749">RECIP_TYP_CD</text>
<rect class="w" x="939" y="1755.4" width="210" height="22.8"/><text x="944" y="1771.8">PRIO_NBR</text>
<rect class="w" x="939" y="1778.2" width="210" height="22.8"/><text x="944" y="1794.6">RTE_TYP_NM</text>
<rect class="w" x="939" y="1801" width="210" height="22.8"/><text x="944" y="1817.4">RTE_LVL_NBR</text>
<rect class="i" x="939" y="1823.8" width="210" height="22.8"/><text x="944" y="1840.2">RTE_NODE_INSTN_ID</text>
<rect class="i" x="939" y="1846.6" width="210" height="22.8"/><text x="944" y="1863">ACTN_TKN_ID</text>
<rect class="w" x="939" y="1869.4" width="210" height="22.8"/><text x="944" y="1885.8">DOC_VER_NBR</text>
<rect class="w" x="939" y="1892.2" width="210" height="22.8"/><text x="944" y="1908.6">CRTE_DT</text>
<rect class="w" x="939" y="1915" width="210" height="22.8"/><text x="944" y="1931.4">RSP_DESC_TXT</text>
<rect class="w" x="939" y="1937.8" width="210" height="22.8"/><text x="944" y="1954.2">FRC_ACTN</text>
<rect class="w" x="939" y="1960.6" width="210" height="22.8"/><text x="944" y="1977">ACTN_RQST_ANNOTN_TXT</text>
<rect class="w" x="939" y="1983.4" width="210" height="22.8"/><text x="944" y="1999.8">DLGN_TYP</text>
<rect class="w" x="939" y="2006.2" width="210" height="22.8"/><text x="944" y="2022.6">APPR_PLCY</text>
<rect class="w" x="939" y="2029" width="210" height="22.8"/><text x="944" y="2045.4">CUR_IND</text>
<rect class="w" x="939" y="2051.8" width="210" height="22.8"/><text x="944" y="2068.2">VER_NBR</text>
<rect class="w" x="939" y="2074.6" width="210" height="22.8"/><text x="944" y="2091">GRP_ID</text>
<rect class="w" x="939" y="2097.4" width="210" height="22.8"/><text x="944" y="2113.8">RQST_LBL</text>
<rect class="f" x="939" y="2120.2" width="70" height="22.8"/><rect class="f" x="1009" y="2120.2" width="71" height="22.8"/><rect class="f" x="1080" y="2120.2" width="69" height="22.8"/>
<text x="944" y="2136.6">&lt; 7</text><text class="e" x="1075" y="2136.6">119 rows</text><text class="e" x="1144" y="2136.6">2 &gt;</text>
</g>

<g id="krew_actn_itm_t">
<rect class="h" x="1216" y="1696" width="249" height="24.5"/><text class="n" x="1340.5" y="1713">krew_actn_itm_t</text>
<rect class="k" x="1216" y="1720.5" width="144" height="22.55"/><rect class="w" x="1360" y="1720.5" width="105" height="22.55"/><text x="1221" y="1736.8">ACTN_ITM_ID</text><text x="1365" y="1736.8">varchar[40]</text>
<rect class="i" x="1216" y="1743.05" width="144" height="22.55"/><rect class="w" x="1360" y="1743.05" width="105" height="22.55"/><text x="1221" y="1759.35">PRNCPL_ID</text><text x="1365" y="1759.35">varchar[40]</text>
<rect class="w" x="1216" y="1765.6" width="144" height="22.55"/><rect class="w" x="1360" y="1765.6" width="105" height="22.55"/><text x="1221" y="1781.9">ASND_DT</text><text x="1365" y="1781.9">datetime[19]</text>
<rect class="w" x="1216" y="1788.15" width="144" height="22.55"/><rect class="w" x="1360" y="1788.15" width="105" height="22.55"/><text x="1221" y="1804.45">RQST_CD</text><text x="1365" y="1804.45">char[1]</text>
<rect class="i" x="1216" y="1810.7" width="144" height="22.55"/><rect class="w" x="1360" y="1810.7" width="105" height="22.55"/><text x="1221" y="1827">ACTN_RQST_ID</text><text x="1365" y="1827">varchar[40]</text>
<rect class="i" x="1216" y="1833.25" width="144" height="22.55"/><rect class="w" x="1360" y="1833.25" width="105" height="22.55"/><text x="1221" y="1849.55">DOC_HDR_ID</text><text x="1365" y="1849.55">varchar[40]</text>
<rect class="w" x="1216" y="1855.8" width="144" height="22.55"/><rect class="w" x="1360" y="1855.8" width="105" height="22.55"/><text x="1221" y="1872.1">ROLE_NM</text><text x="1365" y="1872.1">varchar[2000]</text>
<rect class="i" x="1216" y="1878.35" width="144" height="22.55"/><rect class="w" x="1360" y="1878.35" width="105" height="22.55"/><text x="1221" y="1894.65">DLGN_PRNCPL_ID</text><text x="1365" y="1894.65">varchar[40]</text>
<rect class="w" x="1216" y="1900.9" width="144" height="22.55"/><rect class="w" x="1360" y="1900.9" width="105" height="22.55"/><text x="1221" y="1917.2">DOC_HDR_TTL</text><text x="1365" y="1917.2">varchar[255]</text>
<rect class="w" x="1216" y="1923.45" width="144" height="22.55"/><rect class="w" x="1360" y="1923.45" width="105" height="22.55"/><text x="1221" y="1939.75">DOC_TYP_LBL</text><text x="1365" y="1939.75">varchar[128]</text>
<rect class="w" x="1216" y="1946" width="144" height="22.55"/><rect class="w" x="1360" y="1946" width="105" height="22.55"/><text x="1221" y="1962.3">DOC_HDLR_URL</text><text x="1365" y="1962.3">varchar[255]</text>
<rect class="w" x="1216" y="1968.55" width="144" height="22.55"/><rect class="w" x="1360" y="1968.55" width="105" height="22.55"/><text x="1221" y="1984.85">DOC_TYP_NM</text><text x="1365" y="1984.85">varchar[64]</text>
<rect class="w" x="1216" y="1991.1" width="144" height="22.55"/><rect class="w" x="1360" y="1991.1" width="105" height="22.55"/><text x="1221" y="2007.4">RSP_ID</text><text x="1365" y="2007.4">varchar[40]</text>
<rect class="i" x="1216" y="2013.65" width="144" height="22.55"/><rect class="w" x="1360" y="2013.65" width="105" height="22.55"/><text x="1221" y="2029.95">DLGN_TYP</text><text x="1365" y="2029.95">varchar[1]</text>
<rect class="w" x="1216" y="2036.2" width="144" height="22.55"/><rect class="w" x="1360" y="2036.2" width="105" height="22.55"/><text x="1221" y="2052.5">VER_NBR</text><text x="1365" y="2052.5">decimal[8]</text>
<rect class="w" x="1216" y="2058.75" width="144" height="22.55"/><rect class="w" x="1360" y="2058.75" width="105" height="22.55"/><text x="1221" y="2075.05">DTYPE</text><text x="1365" y="2075.05">varchar[50]</text>
<rect class="w" x="1216" y="2081.3" width="144" height="22.55"/><rect class="w" x="1360" y="2081.3" width="105" height="22.55"/><text x="1221" y="2097.6">GRP_ID</text><text x="1365" y="2097.6">varchar[40]</text>
<rect class="i" x="1216" y="2103.85" width="144" height="22.55"/><rect class="w" x="1360" y="2103.85" width="105" height="22.55"/><text x="1221" y="2120.15">DLGN_GRP_ID</text><text x="1365" y="2120.15">varchar[40]</text>
<rect class="w" x="1216" y="2126.4" width="144" height="22.55"/><rect class="w" x="1360" y="2126.4" width="105" height="22.55"/><text x="1221" y="2142.7">RQST_LBL</text><text x="1365" y="2142.7">varchar[255]</text>
<rect class="f" x="1216" y="2148.95" width="73" height="20.05"/><rect class="f" x="1289" y="2148.95" width="71" height="20.05"/><rect class="f" x="1360" y="2148.95" width="105" height="20.05"/>
<text x="1221" y="2163.5">&lt; 5</text><text class="e" x="1355" y="2163.5">51 rows</text><text class="e" x="1460" y="2163.5">1 &gt;</text>
<rect x="1216" y="1696" width="249" height="473" fill="none" stroke="#000" stroke-width="3"/>
</g>

<g id="krew_out_box_itm_t">
<rect class="h" x="1532" y="2416" width="156" height="23.3"/><text class="n" x="1610" y="2432.5">krew_out_box_itm_t</text>
<rect class="k" x="1532" y="2439.3" width="156" height="22.7"/><text x="1537" y="2455.7">ACTN_ITM_ID</text>
<rect class="i" x="1532" y="2462" width="156" height="22.7"/><text x="1537" y="2478.4">PRNCPL_ID</text>
<rect class="w" x="1532" y="2484.7" width="156" height="22.7"/><text x="1537" y="2501.1">ASND_DT</text>
<rect class="w" x="1532" y="2507.4" width="156" height="22.7"/><text x="1537" y="2523.8">RQST_CD</text>
<rect class="i" x="1532" y="2530.1" width="156" height="22.7"/><text x="1537" y="2546.5">ACTN_RQST_ID</text>
<rect class="i" x="1532" y="2552.8" width="156" height="22.7"/><text x="1537" y="2569.2">DOC_HDR_ID</text>
<rect class="w" x="1532" y="2575.5" width="156" height="22.7"/><text x="1537" y="2591.9">ROLE_NM</text>
<rect class="w" x="1532" y="2598.2" width="156" height="22.7"/><text x="1537" y="2614.6">DLGN_PRNCPL_ID</text>
<rect class="w" x="1532" y="2620.9" width="156" height="22.7"/><text x="1537" y="2637.3">DOC_HDR_TTL</text>
<rect class="w" x="1532" y="2643.6" width="156" height="22.7"/><text x="1537" y="2660">DOC_TYP_LBL</text>
<rect class="w" x="1532" y="2666.3" width="156" height="22.7"/><text x="1537" y="2682.7">DOC_HDLR_URL</text>
<rect class="w" x="1532" y="2689" width="156" height="22.7"/><text x="1537" y="2705.4">DOC_TYP_NM</text>
<rect class="w" x="1532" y="2711.7" width="156" height="22.7"/><text x="1537" y="2728.1">RSP_ID</text>
<rect class="w" x="1532" y="2734.4" width="156" height="22.7"/><text x="1537" y="2750.8">DLGN_TYP</text>
<rect class="w" x="1532" y="2757.1" width="156" height="22.7"/><text x="1537" y="2773.5">VER_NBR</text>
<rect class="w" x="1532" y="2779.8" width="156" height="22.7"/><text x="1537" y="2796.2">GRP_ID</text>
<rect class="w" x="1532" y="2802.5" width="156" height="22.7"/><text x="1537" y="2818.9">DLGN_GRP_ID</text>
<rect class="w" x="1532" y="2825.2" width="156" height="22.7"/><text x="1537" y="2841.6">RQST_LBL</text>
<rect class="f" x="1532" y="2847.9" width="51" height="22.7"/><rect class="f" x="1583" y="2847.9" width="55" height="22.7"/><rect class="f" x="1638" y="2847.9" width="50" height="22.7"/>
<text x="1537" y="2864.3">&lt; 6</text><text class="e" x="1633" y="2864.3">6 rows</text>
</g>

<g id="krew_doc_hdr_cntnt_t">
<rect class="h" x="429" y="2492.5" width="181" height="23"/><text class="n" x="519.5" y="2509">krew_doc_hdr_cntnt_t</text>
<rect class="k" x="429" y="2515.5" width="181" height="23"/><text x="434" y="2532">DOC_HDR_ID</text>
<rect class="w" x="429" y="2538.5" width="181" height="23"/><text x="434" y="2555">DOC_CNTNT_TXT</text>
<rect class="f" x="429" y="2561.5" width="55.3" height="23"/><rect class="f" x="484.3" y="2561.5" width="71.3" height="23"/><rect class="f" x="555.6" y="2561.5" width="54.4" height="23"/>
<text class="e" x="550.6" y="2578">165 rows</text><text class="e" x="605" y="2578">18 &gt;</text>
</g>

<g id="krim_rsp_t">
<rect class="h" x="711.5" y="3347.4" width="129.5" height="22.8"/><text class="n" x="776.25" y="3363.8">krim_rsp_t</text>
<rect class="k" x="711.5" y="3370.2" width="129.5" height="22.8"/><text x="716.5" y="3386.6">RSP_ID</text>
<rect class="i" x="711.5" y="3393" width="129.5" height="22.8"/><text x="716.5" y="3409.4">OBJ_ID</text>
<rect class="w" x="711.5" y="3415.8" width="129.5" height="22.8"/><text x="716.5" y="3432.2">VER_NBR</text>
<rect class="i" x="711.5" y="3438.6" width="129.5" height="22.8"/><text x="716.5" y="3455">RSP_TMPL_ID</text>
<rect class="i" x="711.5" y="3461.4" width="129.5" height="22.8"/><text x="716.5" y="3477.8">NMSPC_CD</text>
<rect class="i" x="711.5" y="3484.2" width="129.5" height="22.8"/><text x="716.5" y="3500.6">NM</text>
<rect class="w" x="711.5" y="3507" width="129.5" height="22.8"/><text x="716.5" y="3523.4">DESC_TXT</text>
<rect class="w" x="711.5" y="3529.8" width="129.5" height="22.8"/><text x="716.5" y="3546.2">ACTV_IND</text>
<rect class="f" x="711.5" y="3552.6" width="37.8" height="22.8"/><rect class="f" x="749.3" y="3552.6" width="55.3" height="22.8"/><rect class="f" x="804.6" y="3552.6" width="36.4" height="22.8"/>
<text x="716.5" y="3569">&lt; 1</text><text class="e" x="799.6" y="3569">0 rows</text><text class="e" x="836" y="3569">13 &gt;</text>
</g>

<text x="17" y="3882">Generated by SchemaSpy</text>
</svg>
